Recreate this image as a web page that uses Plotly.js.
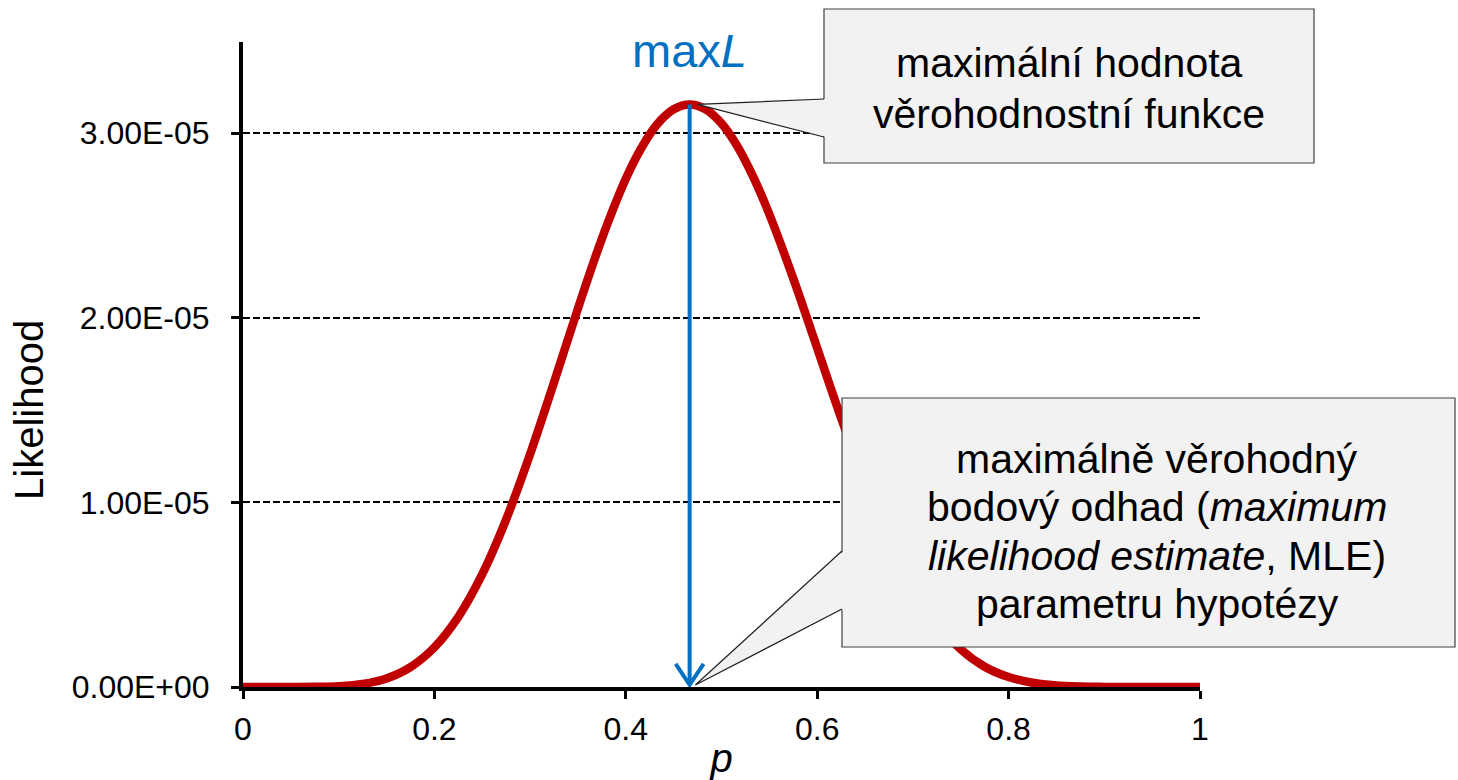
<!DOCTYPE html>
<html>
<head>
<meta charset="utf-8">
<script src="https://cdn.plot.ly/plotly-3.0.1.min.js"></script>
<style>html,body{margin:0;padding:0;background:#fff;}#chart{width:1458px;height:780px;}</style>
</head>
<body>
<div id="chart"></div>
<script>
// Likelihood curve
var pValues = [0, 0.025, 0.05, 0.075, 0.1, 0.125, 0.15, 0.175, 0.2, 0.225, 0.25, 0.275, 0.3, 0.325, 0.35, 0.375, 0.4, 0.4167, 0.4333, 0.45, 0.4667, 0.4833, 0.5, 0.5167, 0.5333, 0.55, 0.575, 0.6, 0.625, 0.65, 0.675, 0.7, 0.725, 0.75, 0.775, 0.8, 0.825, 0.85, 0.875, 0.9, 0.925, 0.95, 0.975, 1];
var likelihood = [0, 0, 5e-10, 7.2e-9, 4.3e-8, 1.64e-7, 4.66e-7, 1.079e-6, 2.147e-6, 3.80e-6, 6.11e-6, 9.08e-6, 1.261e-5, 1.650e-5, 2.050e-5, 2.428e-5, 2.752e-5, 2.923e-5, 3.051e-5, 3.129e-5, 3.155e-5, 3.129e-5, 3.052e-5, 2.927e-5, 2.761e-5, 2.560e-5, 2.212e-5, 1.835e-5, 1.457e-5, 1.104e-5, 7.95e-6, 5.40e-6, 3.44e-6, 2.04e-6, 1.10e-6, 5.4e-7, 2.3e-7, 8.2e-8, 2.3e-8, 4.8e-9, 5.8e-10, 0, 0, 0];
var xTickVals = [0, 0.2, 0.4, 0.6, 0.8, 1];
var xTickText = ["0", "0.2", "0.4", "0.6", "0.8", "1"];
var yTickVals = [0, 1e-5, 2e-5, 3e-5];
var yTickText = ["0.00E+00", "1.00E-05", "2.00E-05", "3.00E-05"];
var calloutTopLines = ["maximální hodnota", "věrohodnostní funkce"];
var calloutBottomLines = ["maximálně věrohodný", "bodový odhad (<i>maximum</i>", "<i>likelihood estimate</i>, MLE)", "parametru hypotézy"];
var yTitle = "Likelihood";
var xTitle = "<i>p</i>";
var peakLabel = "max<i>L</i>";

var FONT = "Liberation Sans, Arial, sans-serif";
var yMax = 3.493e-5;

// find maximum from the data
var iMax = 0;
for (var i = 1; i < likelihood.length; i++) if (likelihood[i] > likelihood[iMax]) iMax = i;
var pMax = pValues[iMax], Lmax = likelihood[iMax];

// pixel helpers for callout geometry (plot area: 243..1200 x, 42..687 y)
var L0 = 243, R0 = 1200, T0 = 42, B0 = 687;
function px(x) { return (x - L0) / (R0 - L0); }
function py(y) { return (B0 - y) / (B0 - T0); }
var tipTopX = pMax + 0.008, tipTopY = Lmax / yMax;
var tipBotX = pMax + 0.006, tipBotY = 0.003;

var boxFill = "#F2F2F2", boxLine = "#404040";
var shapes = [
  // arrow
  {type: "line", xref: "x", yref: "y", x0: pMax, x1: pMax, y0: Lmax, y1: 1.5e-7, line: {color: "#0070C0", width: 4}, layer: "above"},
  {type: "path", xref: "x", yref: "y", path: "M" + (pMax - 0.0146) + "," + (1.25e-6) + " L" + pMax + "," + (1.2e-7) + " L" + (pMax + 0.0146) + "," + (1.25e-6), line: {color: "#0070C0", width: 4}, layer: "above"},
  // top callout
  {type: "rect", xref: "paper", yref: "paper", x0: px(824), x1: px(1314), y0: py(163), y1: py(9), fillcolor: boxFill, line: {color: boxLine, width: 1.2}, layer: "above"},
  {type: "path", xref: "paper", yref: "paper", path: "M" + tipTopX + "," + tipTopY + " L" + px(826) + "," + py(99) + " L" + px(826) + "," + py(137) + " Z", fillcolor: boxFill, line: {width: 0}, layer: "above"},
  {type: "path", xref: "paper", yref: "paper", path: "M" + px(824) + "," + py(99) + " L" + tipTopX + "," + tipTopY + " L" + px(824) + "," + py(137), line: {color: "#202020", width: 1.2}, layer: "above"},
  // bottom callout
  {type: "rect", xref: "paper", yref: "paper", x0: px(842), x1: px(1455), y0: py(647), y1: py(398), fillcolor: boxFill, line: {color: boxLine, width: 1.2}, layer: "above"},
  {type: "path", xref: "paper", yref: "paper", path: "M" + tipBotX + "," + tipBotY + " L" + px(844) + "," + py(551) + " L" + px(844) + "," + py(609) + " Z", fillcolor: boxFill, line: {width: 0}, layer: "above"},
  {type: "path", xref: "paper", yref: "paper", path: "M" + px(842) + "," + py(551) + " L" + tipBotX + "," + tipBotY + " L" + px(842) + "," + py(609), line: {color: "#202020", width: 1.2}, layer: "above"}
];

var boxFont = {family: FONT, size: 41, color: "#000"};
var annotations = [
  {xref: "x", yref: "paper", x: pMax, y: py(50), text: peakLabel, showarrow: false, font: {family: FONT, size: 47, color: "#0070C0"}, xanchor: "center", yanchor: "middle"},
  {xref: "paper", yref: "paper", x: px(29), y: py(410), text: yTitle, textangle: -90, showarrow: false, font: {family: FONT, size: 40, color: "#000"}, xanchor: "center", yanchor: "middle"}
];
var topBase = [76, 127], botBase = [472, 520, 569, 617];
calloutTopLines.forEach(function (t, k) {
  annotations.push({xref: "paper", yref: "paper", x: px(1069), y: py(topBase[k] - 13), text: t, showarrow: false, font: boxFont, xanchor: "center", yanchor: "middle"});
});
calloutBottomLines.forEach(function (t, k) {
  annotations.push({xref: "paper", yref: "paper", x: px(1157), y: py(botBase[k] - 13), text: t, showarrow: false, font: boxFont, xanchor: "center", yanchor: "middle"});
});

var trace = {
  x: pValues, y: likelihood, type: "scatter", mode: "lines",
  line: {color: "#C00000", width: 8.5, shape: "spline", smoothing: 1},
  cliponaxis: false, hoverinfo: "skip"
};

var layout = {
  width: 1458, height: 780,
  margin: {l: 243, r: 258, t: 42, b: 93, pad: 0},
  paper_bgcolor: "#fff", plot_bgcolor: "#fff",
  showlegend: false,
  font: {family: FONT, color: "#000"},
  xaxis: {
    range: [0, 1], tickvals: xTickVals, ticktext: xTickText,
    showgrid: false, zeroline: false, showline: true, linecolor: "#000", linewidth: 4,
    ticks: "outside", ticklen: 8, tickwidth: 3, tickcolor: "#000",
    tickfont: {family: FONT, size: 32, color: "#000"}, ticklabelstandoff: 3,
    title: {text: xTitle, font: {family: FONT, size: 40, color: "#000"}, standoff: 0},
    automargin: false, fixedrange: true
  },
  yaxis: {
    range: [0, yMax], tickvals: yTickVals, ticktext: yTickText,
    showgrid: true, gridcolor: "#000", gridwidth: 2, griddash: "7px,3px",
    zeroline: false, showline: true, linecolor: "#000", linewidth: 4,
    ticks: "outside", ticklen: 8, tickwidth: 3, tickcolor: "#000",
    tickfont: {family: FONT, size: 32, color: "#000"}, ticklabelstandoff: 15,
    automargin: false, fixedrange: true
  },
  shapes: shapes,
  annotations: annotations
};

Plotly.newPlot("chart", [trace], layout, {displayModeBar: false, staticPlot: true});
</script>
</body>
</html>
